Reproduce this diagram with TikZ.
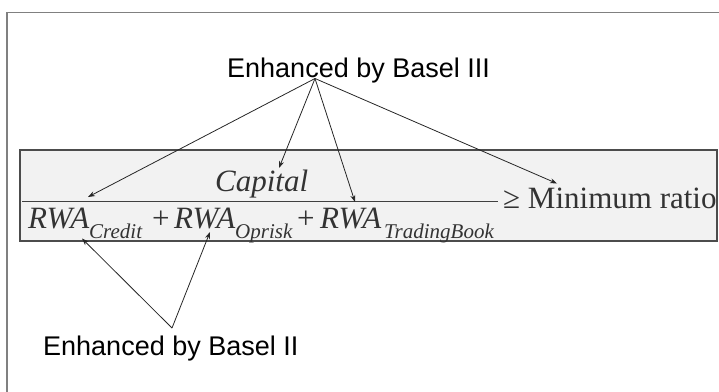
\documentclass[tikz,border=0pt]{standalone}
\usepackage{fontspec}
\setmainfont{Liberation Serif}
\newfontfamily\arialfont{Liberation Sans}
\usetikzlibrary{arrows.meta}

\tikzset{
  mathtxt/.style={anchor=base west, inner sep=0pt, text=black!80, font=\fontsize{31}{36}\selectfont\itshape},
  subtxt/.style={anchor=base west, inner sep=0pt, text=black!80, font=\fontsize{21}{24}\selectfont\itshape},
  labeltxt/.style={anchor=base west, inner sep=0pt, font=\fontsize{27}{32}\selectfont\arialfont},
  ptr/.style={-{Stealth[length=7pt,width=5pt]}, line width=0.8pt, black!85}
}

\begin{document}
\begin{tikzpicture}[x=1pt, y=-1pt]

    \useasboundingbox (0,0) rectangle (719,391);

    % Outer frame
    \draw[gray, line width=1.6pt] (7,400) -- (7,12.5) -- (730,12.5);

    % Formula box
    \draw[fill=black!5, draw=black!70, line width=1.2pt] (20,150) rectangle (717,241);

    % Numerator
    \node[mathtxt] (cap) at (215,191.5) {Capital};
    \draw[black!75, line width=1pt] (22,201.5) -- (498,201.5);

    % Denominator
    \node[mathtxt] (rwaA) at (28,228) {RWA};
    \node[subtxt]  (subA) at (89,238) {Credit};
    \node[mathtxt, font=\fontsize{31}{36}\selectfont] (plusA) at (152,228) {+};
    \node[mathtxt] (rwaB) at (174,228) {RWA};
    \node[subtxt]  (subB) at (235,238) {Oprisk};
    \node[mathtxt, font=\fontsize{31}{36}\selectfont] (plusB) at (297,228) {+};
    \node[mathtxt] (rwaC) at (320,228) {RWA};
    \node[subtxt]  (subC) at (384,238) {TradingBook};

    % Right hand side
    \node[mathtxt, font=\fontsize{31}{36}\selectfont] (ratio) at (503,208) {≥ Minimum ratio};

    % Labels
    \node[labeltxt] (basel3) at (227,77) {Enhanced by Basel III};
    \node[labeltxt] (basel2) at (43,355) {Enhanced by Basel II};

    % Arrow ends
    \coordinate (b3) at (315,78.5);
    \coordinate (b2) at (172,328);
    \coordinate (tipA) at (88,197);
    \coordinate (tipCap) at (279,168);
    \coordinate (tipC) at (355,202);
    \coordinate (tipR) at (557,183.5);
    \coordinate (tipAlow) at (82,238.5);
    \coordinate (tipB) at (210,232);

    % Basel III arrows
    \draw[ptr] (b3) -- (tipA);
    \draw[ptr] (b3) -- (tipCap);
    \draw[ptr] (b3) -- (tipC);
    \draw[ptr] (b3) -- (tipR);

    % Basel II arrows
    \draw[ptr] (b2) -- (tipAlow);
    \draw[ptr] (b2) -- (tipB);

\end{tikzpicture}
\end{document}
